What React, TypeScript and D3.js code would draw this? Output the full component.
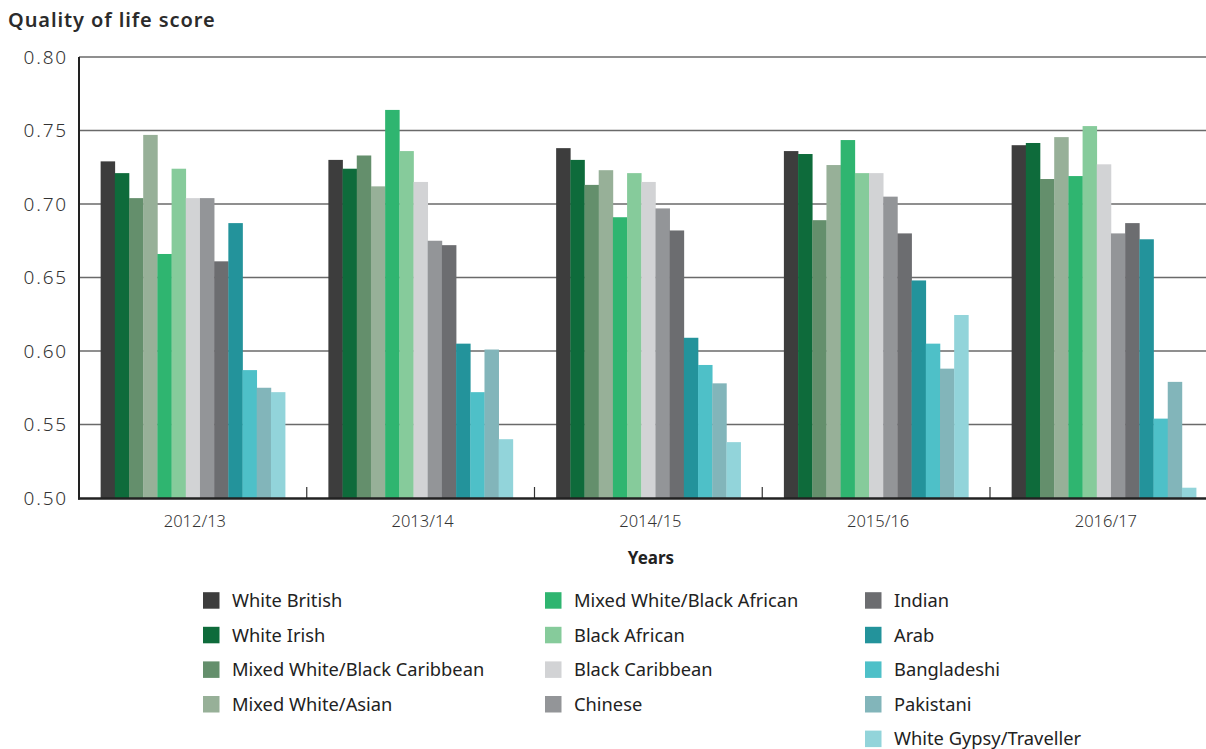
import React from "react";
import * as d3 from "d3";

const years = ["2012/13", "2013/14", "2014/15", "2015/16", "2016/17"];
const groups = [
  "White British",
  "White Irish",
  "Mixed White/Black Caribbean",
  "Mixed White/Asian",
  "Mixed White/Black African",
  "Black African",
  "Black Caribbean",
  "Chinese",
  "Indian",
  "Arab",
  "Bangladeshi",
  "Pakistani",
  "White Gypsy/Traveller",
];
const colors = [
  "#3d3d3d", "#0e6b3b", "#648f6c", "#97b098", "#2fb570", "#86cb9b", "#d2d3d5",
  "#939598", "#6c6d70", "#23939b", "#4ec0c8", "#82b5ba", "#92d4da",
];

const whiteBritish = [0.729, 0.730, 0.738, 0.736, 0.740];
const whiteIrish = [0.721, 0.724, 0.730, 0.734, 0.7415];
const mixedWhiteBlackCaribbean = [0.704, 0.733, 0.713, 0.689, 0.717];
const mixedWhiteAsian = [0.747, 0.712, 0.723, 0.7265, 0.7455];
const mixedWhiteBlackAfrican = [0.666, 0.764, 0.691, 0.7435, 0.719];
const blackAfrican = [0.724, 0.736, 0.721, 0.721, 0.753];
const blackCaribbean = [0.704, 0.715, 0.715, 0.721, 0.727];
const chinese = [0.704, 0.675, 0.697, 0.705, 0.680];
const indian = [0.661, 0.672, 0.682, 0.680, 0.687];
const arab = [0.687, 0.605, 0.609, 0.648, 0.676];
const bangladeshi = [0.587, 0.572, 0.5905, 0.605, 0.554];
const pakistani = [0.575, 0.601, 0.578, 0.588, 0.579];
const whiteGypsyTraveller = [0.572, 0.540, 0.538, 0.6245, 0.507];

const series = [
  whiteBritish, whiteIrish, mixedWhiteBlackCaribbean, mixedWhiteAsian,
  mixedWhiteBlackAfrican, blackAfrican, blackCaribbean, chinese, indian, arab,
  bangladeshi, pakistani, whiteGypsyTraveller,
];

const yTicks = [0.5, 0.55, 0.6, 0.65, 0.7, 0.75, 0.8];

const W = 1206;
const H = 749;
const FONT = "'Noto Sans', 'DejaVu Sans', sans-serif";

export default function App() {
  const axisX = 79;
  const y = d3.scaleLinear().domain([0.5, 0.8]).range([498, 57]);
  const pIn = 0.19;
  const x0 = d3
    .scaleBand<string>()
    .domain(years)
    .range([axisX, axisX + 5 * 227.75])
    .paddingInner(pIn)
    .paddingOuter(pIn / 2);
  const x1 = d3
    .scaleBand<string>()
    .domain(groups)
    .range([0, x0.bandwidth()])
    .padding(0);
  const step = x0.step();

  const legendCols = [
    { x: 203, items: [0, 1, 2, 3] },
    { x: 545, items: [4, 5, 6, 7] },
    { x: 865, items: [8, 9, 10, 11, 12] },
  ];
  const legendY0 = 600.5;
  const legendDy = 34.6;

  return (
    <svg
      width={W}
      height={H}
      style={{ position: "absolute", left: 0, top: 0, background: "#fff" }}
      fontFamily={FONT}
    >
      <rect x={0} y={0} width={W} height={H} fill="#fff" />
      <text x={8} y={26.5} fontSize={20} fontWeight={600} letterSpacing={0.9} fill="#2b2b2b">
        Quality of life score
      </text>

      {/* gridlines */}
      {yTicks.slice(1).map((t) => (
        <line
          key={t}
          x1={axisX}
          x2={W}
          y1={y(t)}
          y2={y(t)}
          stroke="#6a6a6a"
          strokeWidth={1.4}
        />
      ))}

      {/* y tick labels */}
      {yTicks.map((t) => (
        <text
          key={"l" + t}
          x={68}
          y={y(t)}
          dy="0.35em"
          textAnchor="end"
          fontSize={19}
          fontWeight={300}
          letterSpacing={1.8}
          fill="#333"
        >
          {d3.format(".2f")(t)}
        </text>
      ))}

      {/* bars */}
      {years.map((yr, yi) => (
        <g key={yr} transform={`translate(${x0(yr)},0)`}>
          {groups.map((g, gi) => {
            const v = series[gi][yi];
            return (
              <rect
                key={g}
                x={x1(g)}
                y={y(v)}
                width={x1.bandwidth() + 0.3}
                height={y(0.5) - y(v)}
                fill={colors[gi]}
              />
            );
          })}
        </g>
      ))}

      {/* group separators */}
      {years.slice(1).map((yr) => {
        const xx = (x0(yr) as number) - (pIn * step) / 2;
        return (
          <line
            key={"t" + yr}
            x1={xx}
            x2={xx}
            y1={498}
            y2={487}
            stroke="#333"
            strokeWidth={1.2}
          />
        );
      })}

      {/* axes */}
      <line x1={axisX} x2={axisX} y1={57} y2={499.5} stroke="#222" strokeWidth={2} />
      <line x1={axisX - 1} x2={W} y1={498.5} y2={498.5} stroke="#222" strokeWidth={2.5} />

      {/* x labels */}
      {years.map((yr) => (
        <text
          key={"x" + yr}
          x={(x0(yr) as number) + x0.bandwidth() / 2 + 2}
          y={521.5}
          dy="0.35em"
          textAnchor="middle"
          fontSize={16.5}
          fontWeight={300}
          fill="#333"
        >
          {yr}
        </text>
      ))}

      <text x={651} y={558} dy="0.35em" textAnchor="middle" fontSize={17} fontWeight={700} fill="#222">
        Years
      </text>

      {/* legend */}
      {legendCols.map((col) =>
        col.items.map((gi, ri) => {
          const cy = legendY0 + ri * legendDy;
          return (
            <g key={"lg" + gi}>
              <rect x={col.x} y={cy - 8.3} width={16.5} height={16.5} fill={colors[gi]} />
              <text
                x={col.x + 29}
                y={cy}
                dy="0.35em"
                fontSize={18.3}
                fill="#222"
              >
                {groups[gi]}
              </text>
            </g>
          );
        })
      )}
    </svg>
  );
}
